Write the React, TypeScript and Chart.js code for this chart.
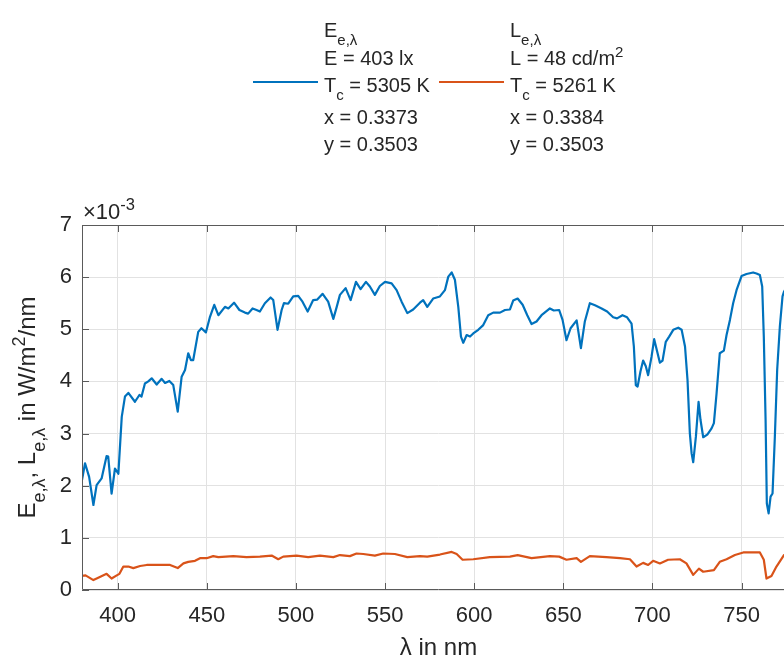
import React, { useEffect, useRef } from "react";
import { Chart, registerables } from "chart.js";

Chart.register(...registerables);

// Spectral irradiance E_e,λ (values in 10^-3 W/m²/nm)
const E_WAVELENGTH = [
  380, 381.7, 384, 386.4, 388.2, 391, 393.8, 394.7, 396.6, 398.5, 400.4, 402.3, 404.1, 406, 409.7, 412.2,
  413.4, 415.3, 417.2, 419.1, 421.9, 424.7, 426.6, 429, 431.2, 433.7, 435.9, 437.8, 439.6, 441.1, 442.4,
  445.2, 447, 449.5, 451.8, 454.2, 456.5, 460.2, 462.1, 465.3, 468.3, 471.4, 473.2, 475.7, 477.9, 479.8,
  482.6, 485.8, 487.3, 489.7, 492, 493.3, 495.7, 498.5, 501.3, 503.7, 506.6, 509.7, 512, 515, 518.1, 521,
  522.9, 524.7, 527.9, 530.7, 533.7, 536.3, 539.3, 541.5, 544.3, 547.1, 550, 553.7, 556.5, 559.3, 562.5,
  565.8, 569.6, 571.4, 573.7, 577, 580.8, 583.6, 585.5, 587.4, 589.2, 591.1, 592.6, 593.9, 595.8, 597.7,
  599.5, 602.3, 605.1, 607.9, 610.7, 614.5, 617.3, 620.1, 621.9, 624.4, 627.2, 629.8, 632.2, 635, 637.8,
  642.5, 644.7, 647.7, 649.6, 651.8, 654.1, 657.5, 659.9, 662.1, 664.9, 667.8, 671.5, 674.6, 678, 680.2,
  683.2, 685.8, 688.3, 689.6, 690.7, 691.7, 693.3, 694.8, 696.3, 697.6, 699.5, 701, 702.7, 704.2, 705.7,
  707.5, 709.4, 711.7, 714.5, 716.4, 718.3, 719.7, 721, 722, 722.9, 724.4, 725.9, 727, 728.5, 730.8, 733.2,
  734.5, 736, 737.8, 740.1, 741.6, 743.5, 745.3, 747.2, 750, 752.8, 756.5, 758.4, 760.3, 761.6, 762.5,
  763.5, 764.2, 765.2, 766.3, 767.4, 768.7, 770, 771.5, 773, 773.8, 776, 780,
];
const E_VALUES = [
  2.11, 2.43, 2.17, 1.63, 2.01, 2.14, 2.57, 2.56, 1.85, 2.33, 2.23, 3.32, 3.71, 3.78, 3.61, 3.74,
  3.71, 3.96, 4.0, 4.06, 3.94, 4.05, 3.97, 4.01, 3.93, 3.42, 4.09, 4.22, 4.54, 4.41, 4.41,
  4.95, 5.02, 4.94, 5.24, 5.47, 5.27, 5.43, 5.4, 5.51, 5.37, 5.32, 5.3, 5.4, 5.37, 5.34,
  5.5, 5.61, 5.56, 4.99, 5.37, 5.5, 5.49, 5.63, 5.64, 5.53, 5.34, 5.56, 5.57, 5.68, 5.53, 5.2,
  5.43, 5.66, 5.79, 5.56, 5.91, 5.77, 5.91, 5.82, 5.66, 5.83, 5.91, 5.88, 5.75, 5.53, 5.31,
  5.38, 5.51, 5.56, 5.43, 5.59, 5.63, 5.75, 6.01, 6.09, 5.95, 5.43, 4.86, 4.74, 4.89, 4.86,
  4.92, 4.99, 5.08, 5.27, 5.32, 5.32, 5.37, 5.38, 5.55, 5.59, 5.47, 5.27, 5.1, 5.15, 5.27,
  5.4, 5.36, 5.37, 5.18, 4.79, 5.02, 5.17, 4.64, 5.15, 5.5, 5.46, 5.4, 5.34, 5.23, 5.21,
  5.27, 5.23, 5.11, 4.67, 3.93, 3.9, 4.19, 4.4, 4.29, 4.12, 4.47, 4.81, 4.57, 4.36, 4.4,
  4.76, 4.86, 4.99, 5.03, 4.99, 4.67, 4.03, 3.01, 2.62, 2.45, 2.94, 3.61, 3.26, 2.93, 2.98, 3.1,
  3.2, 3.77, 4.54, 4.59, 4.89, 5.18, 5.5, 5.75, 6.02, 6.06, 6.09, 6.07, 6.04, 5.82, 4.86,
  3.26, 1.66, 1.47, 1.79, 1.85, 2.94, 4.22, 5.05, 5.63, 5.72, 5.85, 5.9,
];

// Spectral radiance L_e,λ (values in 10^-3 W/m²/nm)
const L_WAVELENGTH = [
  380, 382, 386.4, 390, 393.8, 396.6, 399.5, 401, 403.2, 406, 408.8, 412.6, 416.3, 421.9, 429.4, 433.7,
  436.9, 439.6, 443.4, 446.2, 449.9, 453.6, 456.5, 464.9, 472.3, 479.8, 486.4, 490.1, 492.9, 500.4,
  506.9, 513.5, 521, 524.7, 530.3, 534, 537.8, 544.3, 549, 555.5, 562.5, 569.6, 573.7, 580.8, 587.4,
  590.2, 593.5, 599.5, 608.8, 620.1, 624.4, 632.2, 642.5, 647.7, 651.8, 657.5, 659.9, 664.9, 674.2,
  681.8, 687.4, 691.1, 694.8, 697.6, 700.4, 704.2, 708.8, 715.4, 719.1, 722.9, 726.1, 728.5, 734.5,
  737.8, 741.6, 746.3, 751, 760.3, 762.5, 764, 766.8, 769.6, 773.8, 776, 780,
];
const L_VALUES = [
  0.27, 0.28, 0.19, 0.25, 0.31, 0.22, 0.28, 0.31, 0.45, 0.45, 0.42, 0.46, 0.48, 0.48, 0.48, 0.42,
  0.51, 0.54, 0.56, 0.61, 0.61, 0.65, 0.63, 0.65, 0.63, 0.64, 0.66, 0.59, 0.64, 0.66,
  0.63, 0.66, 0.63, 0.67, 0.65, 0.7, 0.69, 0.66, 0.7, 0.69, 0.63, 0.65, 0.64, 0.68, 0.73,
  0.69, 0.58, 0.59, 0.63, 0.64, 0.67, 0.61, 0.65, 0.64, 0.58, 0.61, 0.54, 0.65, 0.63,
  0.61, 0.59, 0.45, 0.52, 0.48, 0.56, 0.51, 0.58, 0.59, 0.51, 0.29, 0.41, 0.35, 0.38,
  0.54, 0.59, 0.67, 0.72, 0.72, 0.58, 0.22, 0.27, 0.45, 0.67, 0.69, 0.7,
];

const X_TICKS = [400, 450, 500, 550, 600, 650, 700, 750];
const Y_TICKS = [0, 1, 2, 3, 4, 5, 6, 7];
const X_RANGE = [380, 780];
const Y_RANGE = [0, 7];

type Seg = { t: string; s?: "sub" | "sup" };

const LEGEND_E: Seg[][] = [
  [{ t: "E" }, { t: "e,λ", s: "sub" }],
  [{ t: "E = 403 lx" }],
  [{ t: "T" }, { t: "c", s: "sub" }, { t: " = 5305 K" }],
  [{ t: "x = 0.3373" }],
  [{ t: "y = 0.3503" }],
];
const LEGEND_L: Seg[][] = [
  [{ t: "L" }, { t: "e,λ", s: "sub" }],
  [{ t: "L = 48 cd/m" }, { t: "2", s: "sup" }],
  [{ t: "T" }, { t: "c", s: "sub" }, { t: " = 5261 K" }],
  [{ t: "x = 0.3384" }],
  [{ t: "y = 0.3503" }],
];
const Y_TITLE: Seg[] = [
  { t: "E" }, { t: "e,λ", s: "sub" }, { t: ", L" }, { t: "e,λ", s: "sub" },
  { t: " in W/m" }, { t: "2", s: "sup" }, { t: "/nm" },
];
const X_TITLE: Seg[] = [{ t: "λ in nm" }];
const EXPONENT: Seg[] = [{ t: "×10" }, { t: "-3", s: "sup" }];

const BLUE = "#0072BD";
const ORANGE = "#D95319";
const TEXT = "#262626";
const FAMILY = "'Liberation Sans', Arial, Helvetica, sans-serif";

// The plot box runs past the right edge of the window, as in the reference.
const VIEW_W = 784;
const VIEW_H = 657;
const W = 840;
const H = 657;
const AREA = { left: 82, top: 225, right: 795, bottom: 590 };

function drawRich(ctx: CanvasRenderingContext2D, segs: Seg[], x: number, y: number, size: number, align: "left" | "center" = "left") {
  const fontOf = (s: Seg) => `${s.s ? size * 0.75 : size}px ${FAMILY}`;
  const widths = segs.map((s) => {
    ctx.font = fontOf(s);
    return ctx.measureText(s.t).width;
  });
  const total = widths.reduce((a, b) => a + b, 0);
  let cx = align === "center" ? x - total / 2 : x;
  segs.forEach((s, i) => {
    ctx.font = fontOf(s);
    const dy = s.s === "sub" ? size * 0.42 : s.s === "sup" ? -size * 0.42 : 0;
    ctx.fillText(s.t, cx, y + dy);
    cx += widths[i];
  });
}

const decorPlugin = {
  id: "decor",
  afterDatasetsDraw(chart: any) {
    const ctx: CanvasRenderingContext2D = chart.ctx;
    const { left, top, right, bottom } = chart.chartArea;
    const xs = chart.scales.x;
    const ys = chart.scales.y;
    ctx.save();
    ctx.strokeStyle = "#5a5a5a";
    ctx.lineWidth = 1;
    ctx.beginPath();
    ctx.rect(left + 0.5, top + 0.5, right - left - 1, bottom - top - 1);
    ctx.stroke();
    const tl = 7;
    ctx.beginPath();
    X_TICKS.forEach((v) => {
      const px = Math.round(xs.getPixelForValue(v)) + 0.5;
      ctx.moveTo(px, bottom);
      ctx.lineTo(px, bottom - tl);
      ctx.moveTo(px, top);
      ctx.lineTo(px, top + tl);
    });
    Y_TICKS.forEach((v) => {
      const py = Math.round(ys.getPixelForValue(v)) + 0.5;
      ctx.moveTo(left, py);
      ctx.lineTo(left + tl, py);
      ctx.moveTo(right, py);
      ctx.lineTo(right - tl, py);
    });
    ctx.stroke();
    ctx.restore();
  },
  afterDraw(chart: any) {
    const ctx: CanvasRenderingContext2D = chart.ctx;
    const { left, top, right, bottom } = chart.chartArea;
    ctx.save();
    ctx.fillStyle = TEXT;
    ctx.textBaseline = "alphabetic";
    ctx.textAlign = "left";

    // exponent label
    drawRich(ctx, EXPONENT, left + 1, top - 6, 22);

    // x title
    drawRich(ctx, X_TITLE, (left + right) / 2, 655, 24, "center");

    // y title
    ctx.save();
    ctx.translate(35, (top + bottom) / 2);
    ctx.rotate(-Math.PI / 2);
    drawRich(ctx, Y_TITLE, 0, 0, 24, "center");
    ctx.restore();

    // legend
    const baselines = [37, 65, 92, 124, 151];
    const cols = [
      { lx0: 253, lx1: 318, tx: 324, color: BLUE, lines: LEGEND_E },
      { lx0: 439, lx1: 504, tx: 510, color: ORANGE, lines: LEGEND_L },
    ];
    cols.forEach((c) => {
      ctx.strokeStyle = c.color;
      ctx.lineWidth = 2;
      ctx.beginPath();
      ctx.moveTo(c.lx0, 82);
      ctx.lineTo(c.lx1, 82);
      ctx.stroke();
      c.lines.forEach((ln, i) => drawRich(ctx, ln, c.tx, baselines[i], 20));
    });
    ctx.restore();
  },
};

export default function App() {
  const ref = useRef<HTMLCanvasElement | null>(null);
  useEffect(() => {
    document.documentElement.style.overflow = "hidden";
    const canvas = ref.current;
    if (!canvas) return;
    const chart = new Chart(canvas, {
      type: "line",
      data: {
        datasets: [
          {
            label: "E",
            data: E_WAVELENGTH.map((x, i) => ({ x, y: E_VALUES[i] })),
            borderColor: BLUE,
            borderWidth: 2.2,
            pointRadius: 0,
            tension: 0,
            borderJoinStyle: "round",
          },
          {
            label: "L",
            data: L_WAVELENGTH.map((x, i) => ({ x, y: L_VALUES[i] })),
            borderColor: ORANGE,
            borderWidth: 2.2,
            pointRadius: 0,
            tension: 0,
            borderJoinStyle: "round",
          },
        ],
      },
      options: {
        responsive: false,
        animation: false,
        devicePixelRatio: 1,
        layout: { padding: { left: 0, top: AREA.top, right: W - AREA.right, bottom: 0 } },
        plugins: { legend: { display: false }, tooltip: { enabled: false } },
        events: [],
        scales: {
          x: {
            type: "linear",
            min: X_RANGE[0],
            max: X_RANGE[1],
            afterBuildTicks: (s: any) => {
              s.ticks = X_TICKS.map((v) => ({ value: v }));
            },
            afterFit: (s: any) => {
              s.height = H - AREA.bottom;
            },
            grid: { color: "#e2e2e2", lineWidth: 1, drawTicks: false },
            border: { display: false },
            ticks: {
              padding: 13,
              maxRotation: 0,
              autoSkip: false,
              color: TEXT,
              font: { family: FAMILY, size: 22 },
              callback: (v: any) => String(v),
            },
          },
          y: {
            type: "linear",
            min: Y_RANGE[0],
            max: Y_RANGE[1],
            afterBuildTicks: (s: any) => {
              s.ticks = Y_TICKS.map((v) => ({ value: v }));
            },
            afterFit: (s: any) => {
              s.width = AREA.left;
            },
            grid: { color: "#e2e2e2", lineWidth: 1, drawTicks: false },
            border: { display: false },
            ticks: {
              padding: 10,
              autoSkip: false,
              color: TEXT,
              font: { family: FAMILY, size: 22 },
              callback: (v: any) => String(v),
            },
          },
        },
      },
      plugins: [decorPlugin],
    } as any);
    return () => chart.destroy();
  }, []);
  return (
    <div
      style={{
        position: "fixed",
        left: 0,
        top: 0,
        width: VIEW_W,
        height: VIEW_H,
        overflow: "hidden",
        background: "#fff",
      }}
    >
      <canvas ref={ref} width={W} height={H} style={{ display: "block", width: W, height: H }} />
    </div>
  );
}
